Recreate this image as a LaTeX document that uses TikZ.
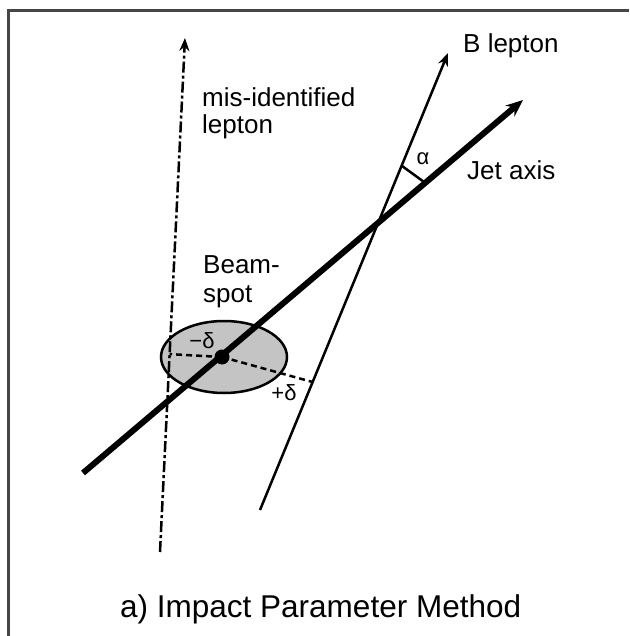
\documentclass[tikz,border=0pt]{standalone}
\usepackage{fontspec}
\setmainfont{Liberation Sans}
\usetikzlibrary{arrows.meta,calc,shapes.geometric}
\definecolor{spotgray}{RGB}{196,196,196}
\definecolor{framegray}{RGB}{70,70,70}
\begin{document}
\begin{tikzpicture}[x=1pt,y=-1pt,
  lbl/.style={font=\fontsize{26}{28}\selectfont, inner sep=0pt, anchor=base west},
  dlbl/.style={font=\fontsize{22}{24}\selectfont, inner sep=0pt},
  jettip/.style={-{Stealth[length=17pt,width=14pt]}},
  thintip/.style={-{Stealth[length=13pt,width=10pt]}},
  perp/.style={line width=2.5pt, dash pattern=on 6pt off 4pt},
]
\useasboundingbox (0,0) rectangle (629,636);
% frame (left and top only)
\draw[framegray, line width=3pt] (8,636) -- (8,11) -- (629,11);
% line end points
\coordinate (j0) at (83,473);
\coordinate (j1) at (523,100);
\coordinate (b0) at (260,510);
\coordinate (b1) at (448,53);
\coordinate (m0) at (160,552);
\coordinate (m1) at (185,38);
% beam spot
\node (spot) [ellipse, draw, line width=2.5pt, fill=spotgray, inner sep=0pt,
  minimum width=126pt, minimum height=72pt] at (224,357) {};
% mis-identified lepton
\draw[thintip, line width=2.5pt, dash pattern=on 11pt off 3pt on 3pt off 3pt] (m0) -- (m1);
% jet axis
\draw[jettip, line width=6pt] (j0) -- (j1);
% beam spot centre
\node (dot) [circle, fill=black, inner sep=0pt, minimum size=15pt] at (222,357) {};
% impact parameter lines
\coordinate (md) at ($(m0)!0.385!(m1)$);
\coordinate (pd) at ($(b0)!0.28!(b1)$);
\draw[perp] (dot.center) -- (md);
\draw[perp] (dot.center) -- (pd);
% B lepton
\draw[thintip, line width=2.5pt] (b0) -- (b1);
% angle alpha
\coordinate (ix) at (378,223);
\coordinate (aj) at ($(ix)!62pt!(j1)$);
\coordinate (ab) at ($(ix)!62pt!(b1)$);
\draw[line width=2.5pt] (ab) -- (aj);
% labels
\node[lbl] (blab) at (463,53) {B lepton};
\node[lbl] (jlab) at (467,180) {Jet axis};
\node[dlbl] (alab) at (423,159) {α};
\node[lbl] (mlab1) at (202,107) {mis-identified};
\node[lbl] (mlab2) at (202,134) {lepton};
\node[lbl] (slab1) at (203,273) {Beam-};
\node[lbl] (slab2) at (203,302) {spot};
\node[dlbl] (mdl) at (202,341) {−δ};
\node[dlbl] (pdl) at (284,393) {+δ};
\node[font=\fontsize{31.5}{34}\selectfont, inner sep=0pt, anchor=base west] (title) at (120,617) {a) Impact Parameter Method};
\end{tikzpicture}
\end{document}
